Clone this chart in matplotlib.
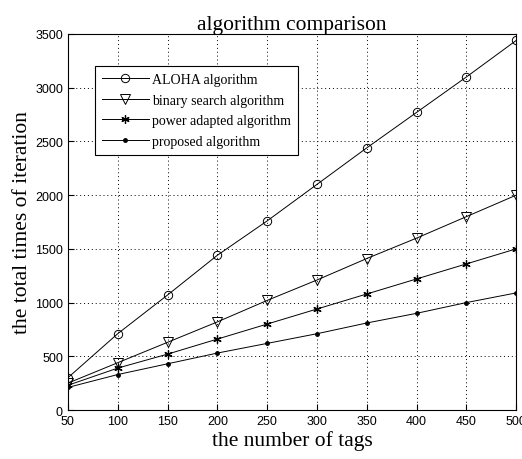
import numpy as np
import matplotlib.pyplot as plt

tags = [50, 100, 150, 200, 250, 300, 350, 400, 450, 500]
aloha = [300, 710, 1070, 1440, 1760, 2100, 2440, 2770, 3100, 3440]
binary = [250, 440, 630, 820, 1020, 1210, 1410, 1600, 1800, 2000]
power = [230, 390, 520, 660, 800, 940, 1080, 1220, 1360, 1500]
proposed = [210, 330, 430, 530, 620, 710, 810, 900, 1000, 1090]

fig = plt.figure(figsize=(5.22, 4.6), dpi=100)
ax = fig.add_axes([0.130, 0.1065, 0.859, 0.8175])

ax.plot(tags, aloha, color='k', lw=0.7, marker='o', ms=6, mfc='none', mew=0.7, label='ALOHA algorithm')
ax.plot(tags, binary, color='k', lw=0.7, marker='v', ms=6.5, mfc='none', mew=0.7, label='binary search algorithm')
ax.plot(tags, power, color='k', lw=0.7, marker=(6, 2, 0), ms=6, mew=0.9, label='power adapted algorithm')
ax.plot(tags, proposed, color='k', lw=0.7, marker='.', ms=5, label='proposed algorithm')

ax.set_xlim(50, 500)
ax.set_ylim(0, 3500)
ax.set_xticks(np.arange(50, 501, 50))
ax.set_yticks(np.arange(0, 3501, 500))
ax.grid(True, color='k', linestyle=(0, (1, 3)), linewidth=0.7)
ax.tick_params(direction='in', labelsize=9, length=4)
for lab in ax.get_xticklabels() + ax.get_yticklabels():
    lab.set_fontfamily('Liberation Sans')

ax.set_title('algorithm comparison', fontsize=15.5, family='Liberation Serif', pad=3)
ax.set_xlabel('the number of tags', fontsize=15.5, family='Liberation Serif', labelpad=2)
ax.set_ylabel('the total times of iteration', fontsize=15.5, family='Liberation Serif', labelpad=2)

leg = ax.legend(loc='upper left', bbox_to_anchor=(0.06, 0.915), borderaxespad=0,
                prop={'family': 'Liberation Serif', 'size': 10},
                fancybox=False, edgecolor='k', framealpha=1, handlelength=3.4, borderpad=0.5,
                labelspacing=0.55, handletextpad=0.2)
leg.get_frame().set_linewidth(0.8)

fig.savefig('out.png', dpi=100)
